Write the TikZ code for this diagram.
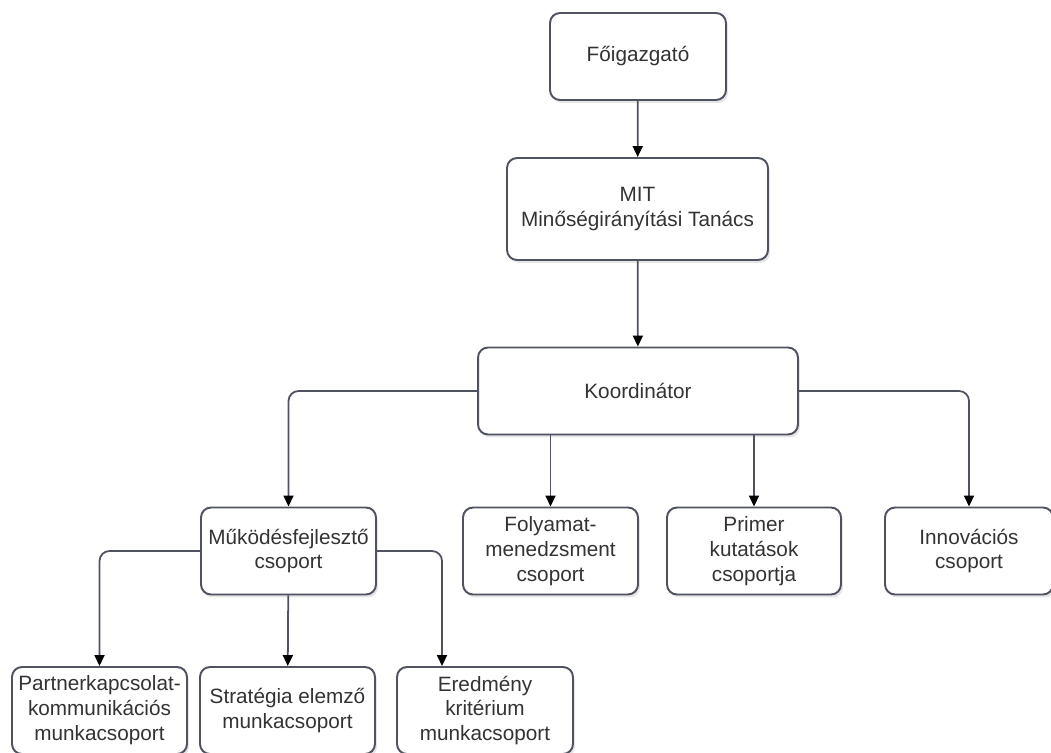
\documentclass[tikz,border=0pt]{standalone}
\usepackage{fontspec}
\setmainfont{Liberation Sans}
\usetikzlibrary{arrows.meta,shadows}
\definecolor{keret}{HTML}{4F5260}
\definecolor{szoveg}{HTML}{333333}
\begin{document}
\begin{tikzpicture}[x=0.02cm,y=-0.02cm]

	\tikzset{
	  egyseg/.style={
		draw=keret,
		line width=1.1pt,
		rounded corners=0.2cm,
		fill=white,
		align=center,
		text=szoveg,
		font=\fontsize{11.8}{14.2}\selectfont,
		minimum height=1.74cm,
		inner sep=2pt,
		drop shadow={opacity=0.2,shadow xshift=0.04cm,shadow yshift=-0.06cm},
	  },
	  nyil/.style={
		draw=keret,
		line width=1pt,
		rounded corners=0.2cm,
		-{Triangle[length=0.22cm,width=0.2cm,color=black]},
	  },
	}
	\useasboundingbox (0,0) rectangle (1051,753);
	% felso szint
	\node[egyseg, minimum width=3.52cm] (fo) at (638,56.5) {Főigazgató};
	\node[egyseg, minimum width=5.22cm, minimum height=2.04cm] (mit) at (637.5,209) {MIT\\Minőségirányítási Tanács};
	\node[egyseg, minimum width=6.4cm] (koord) at (638,391) {Koordinátor};
	% csoportok
	\node[egyseg, minimum width=3.5cm] (mukod) at (288.5,551) {Működésfejlesztő\\csoport};
	\node[egyseg, minimum width=3.5cm] (folyam) at (550.5,551) {Folyamat-\\menedzsment\\csoport};
	\node[egyseg, minimum width=3.48cm] (primer) at (754,551) {Primer\\kutatások\\csoportja};
	\node[egyseg, minimum width=3.36cm] (innov) at (969,551) {Innovációs\\csoport};
	% munkacsoportok
	\node[egyseg, minimum width=3.5cm] (partner) at (99.5,710.5) {Partnerkapcsolat-\\kommunikációs\\munkacsoport};
	\node[egyseg, minimum width=3.5cm] (strat) at (287.5,710.5) {Stratégia elemző\\munkacsoport};
	\node[egyseg, minimum width=3.52cm] (eredm) at (485,710.5) {Eredmény\\kritérium\\munkacsoport};
	\coordinate (ekez) at ([xshift=-0.86cm]eredm.north);

	\draw[nyil] (fo) -- (mit);
	\draw[nyil] (mit) -- (koord);
	\draw[nyil] (koord.west) -| (mukod.north);
	\draw[nyil] (koord.south -| folyam.north) -- (folyam.north);
	\draw[nyil] (koord.south -| primer.north) -- (primer.north);
	\draw[nyil] (koord.east) -| (innov.north);
	\draw[nyil] (mukod.west) -| (partner.north);
	\draw[nyil] (mukod) -- (strat);
	\draw[nyil] (mukod.east) -| (ekez);

\end{tikzpicture}
\end{document}
